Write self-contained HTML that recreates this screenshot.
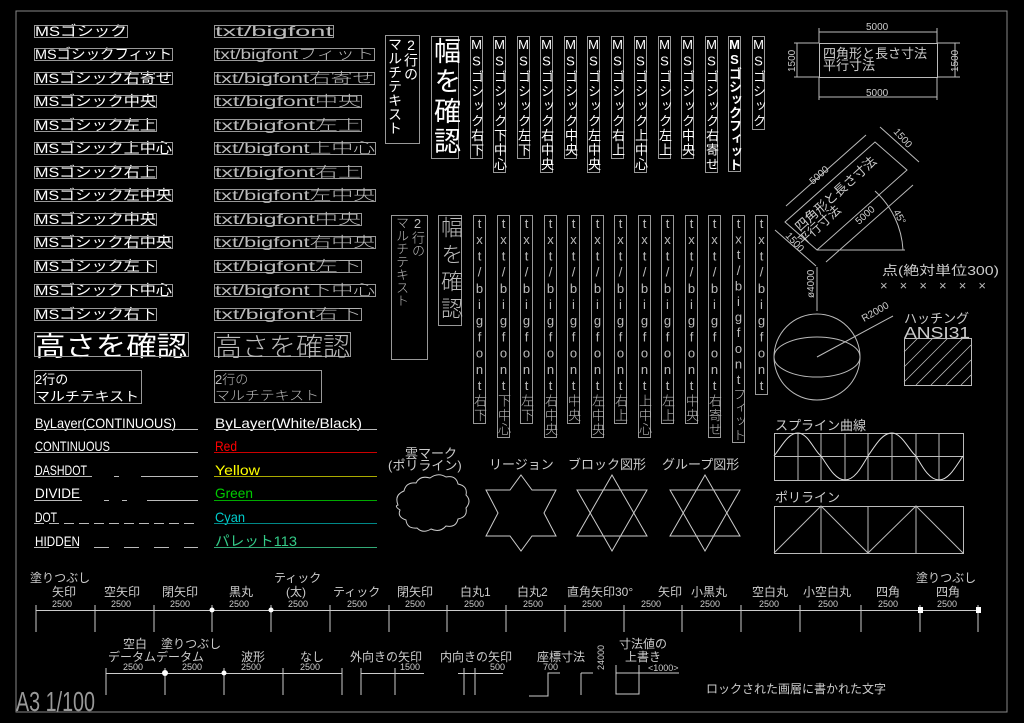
<!DOCTYPE html>
<html><head><meta charset="utf-8"><style>
html,body{margin:0;padding:0;background:#000;width:1024px;height:723px;overflow:hidden;position:relative}
svg{position:absolute;left:0;top:0}
.v{position:absolute;writing-mode:vertical-rl;text-orientation:upright;font-family:"Liberation Sans","Noto Sans CJK JP",sans-serif;white-space:nowrap;box-sizing:border-box}
.ms{top:36px;width:13px;border:1px solid #999;color:#fff;font-size:13px;line-height:11px;letter-spacing:1.6px}
.bf{top:215px;width:13px;border:1px solid #999;color:#bbb;font-size:13px;line-height:11px;letter-spacing:1.2px;font-weight:300}
</style></head><body>
<svg width="1024" height="723" viewBox="0 0 1024 723" font-family="Liberation Sans, Noto Sans CJK JP, sans-serif">
<rect x="16" y="11" width="991" height="701" fill="none" stroke="#888" stroke-width="1"/>
<g fill="#fff" font-size="14" stroke="none">
<text x="35" y="36" textLength="92" lengthAdjust="spacingAndGlyphs">MSゴシック</text>
<text x="35" y="59" textLength="137" lengthAdjust="spacingAndGlyphs">MSゴシックフィット</text>
<text x="35" y="83" textLength="137" lengthAdjust="spacingAndGlyphs">MSゴシック右寄せ</text>
<text x="35" y="106" textLength="121" lengthAdjust="spacingAndGlyphs">MSゴシック中央</text>
<text x="35" y="130" textLength="121" lengthAdjust="spacingAndGlyphs">MSゴシック左上</text>
<text x="35" y="153" textLength="137" lengthAdjust="spacingAndGlyphs">MSゴシック上中心</text>
<text x="35" y="177" textLength="121" lengthAdjust="spacingAndGlyphs">MSゴシック右上</text>
<text x="35" y="200" textLength="137" lengthAdjust="spacingAndGlyphs">MSゴシック左中央</text>
<text x="35" y="224" textLength="121" lengthAdjust="spacingAndGlyphs">MSゴシック中央</text>
<text x="35" y="247" textLength="137" lengthAdjust="spacingAndGlyphs">MSゴシック右中央</text>
<text x="35" y="271" textLength="121" lengthAdjust="spacingAndGlyphs">MSゴシック左下</text>
<text x="35" y="295" textLength="137" lengthAdjust="spacingAndGlyphs">MSゴシック下中心</text>
<text x="35" y="319" textLength="121" lengthAdjust="spacingAndGlyphs">MSゴシック右下</text>
<text x="35" y="356" font-size="27" textLength="152" lengthAdjust="spacingAndGlyphs">高さを確認</text>
</g>
<g fill="none" stroke="#999" stroke-width="1">
<rect x="34.5" y="25.5" width="93" height="12"/><rect x="34.5" y="48.5" width="138" height="12"/><rect x="34.5" y="72.5" width="138" height="12"/><rect x="34.5" y="95.5" width="122" height="12"/><rect x="34.5" y="119.5" width="122" height="12"/><rect x="34.5" y="142.5" width="138" height="12"/><rect x="34.5" y="166.5" width="122" height="12"/><rect x="34.5" y="189.5" width="138" height="12"/><rect x="34.5" y="213.5" width="122" height="12"/><rect x="34.5" y="236.5" width="138" height="12"/><rect x="34.5" y="260.5" width="122" height="12"/><rect x="34.5" y="284.5" width="138" height="12"/><rect x="34.5" y="308.5" width="122" height="12"/>
<rect x="34.5" y="332.5" width="154" height="24"/>
<rect x="214.5" y="25.5" width="119" height="12"/><rect x="214.5" y="48.5" width="160" height="12"/><rect x="214.5" y="72.5" width="160" height="12"/><rect x="214.5" y="95.5" width="147" height="12"/><rect x="214.5" y="119.5" width="147" height="12"/><rect x="214.5" y="142.5" width="161" height="12"/><rect x="214.5" y="166.5" width="147" height="12"/><rect x="214.5" y="189.5" width="161" height="12"/><rect x="214.5" y="213.5" width="147" height="12"/><rect x="214.5" y="236.5" width="161" height="12"/><rect x="214.5" y="260.5" width="147" height="12"/><rect x="214.5" y="284.5" width="161" height="12"/><rect x="214.5" y="308.5" width="147" height="12"/>
<rect x="214.5" y="332.5" width="136" height="24"/>
<rect x="34.5" y="370.5" width="107" height="33"/><rect x="214.5" y="370.5" width="107" height="32"/>
</g>
<g fill="#bbb" font-size="14" font-weight="300">
<text x="215" y="36" textLength="118" lengthAdjust="spacingAndGlyphs">txt/bigfont</text>
<text x="215" y="59" textLength="159" lengthAdjust="spacingAndGlyphs">txt/bigfontフィット</text>
<text x="215" y="83" textLength="159" lengthAdjust="spacingAndGlyphs">txt/bigfont右寄せ</text>
<text x="215" y="106" textLength="146" lengthAdjust="spacingAndGlyphs">txt/bigfont中央</text>
<text x="215" y="130" textLength="146" lengthAdjust="spacingAndGlyphs">txt/bigfont左上</text>
<text x="215" y="153" textLength="160" lengthAdjust="spacingAndGlyphs">txt/bigfont上中心</text>
<text x="215" y="177" textLength="146" lengthAdjust="spacingAndGlyphs">txt/bigfont右上</text>
<text x="215" y="200" textLength="160" lengthAdjust="spacingAndGlyphs">txt/bigfont左中央</text>
<text x="215" y="224" textLength="146" lengthAdjust="spacingAndGlyphs">txt/bigfont中央</text>
<text x="215" y="247" textLength="160" lengthAdjust="spacingAndGlyphs">txt/bigfont右中央</text>
<text x="215" y="271" textLength="146" lengthAdjust="spacingAndGlyphs">txt/bigfont左下</text>
<text x="215" y="295" textLength="160" lengthAdjust="spacingAndGlyphs">txt/bigfont下中心</text>
<text x="215" y="319" textLength="146" lengthAdjust="spacingAndGlyphs">txt/bigfont右下</text>
<text x="215" y="356" font-size="26" textLength="135" lengthAdjust="spacingAndGlyphs">高さを確認</text>
<text x="215" y="384" font-size="13">2行の</text>
<text x="215" y="400" font-size="13" textLength="104" lengthAdjust="spacingAndGlyphs">マルチテキスト</text>
</g>
<g fill="#fff" font-size="13">
<text x="35" y="384">2行の</text>
<text x="35" y="401" textLength="104" lengthAdjust="spacingAndGlyphs">マルチテキスト</text>
</g>
<g font-size="14" fill="#fff">
<text x="35" y="428" textLength="141" lengthAdjust="spacingAndGlyphs">ByLayer(CONTINUOUS)</text>
<text x="35" y="451" textLength="75" lengthAdjust="spacingAndGlyphs">CONTINUOUS</text>
<text x="35" y="475" textLength="52" lengthAdjust="spacingAndGlyphs">DASHDOT</text>
<text x="35" y="498" textLength="45" lengthAdjust="spacingAndGlyphs">DIVIDE</text>
<text x="35" y="522" textLength="22" lengthAdjust="spacingAndGlyphs">DOT</text>
<text x="35" y="546" textLength="45" lengthAdjust="spacingAndGlyphs">HIDDEN</text>
<text x="215" y="428" textLength="147" lengthAdjust="spacingAndGlyphs">ByLayer(White/Black)</text>
<text x="215" y="451" fill="#f00" textLength="22" lengthAdjust="spacingAndGlyphs">Red</text>
<text x="215" y="475" fill="#ff0" textLength="45" lengthAdjust="spacingAndGlyphs">Yellow</text>
<text x="215" y="498" fill="#0c0" textLength="38" lengthAdjust="spacingAndGlyphs">Green</text>
<text x="215" y="522" fill="#0cc" textLength="30" lengthAdjust="spacingAndGlyphs">Cyan</text>
<text x="215" y="546" fill="#3c8" textLength="82" lengthAdjust="spacingAndGlyphs">パレット113</text>
</g>
<g stroke-width="1" fill="none">
<line x1="34" y1="429.5" x2="198" y2="429.5" stroke="#bbb"/>
<line x1="34" y1="452.5" x2="198" y2="452.5" stroke="#bbb"/>
<line x1="34" y1="476.5" x2="198" y2="476.5" stroke="#bbb" stroke-dasharray="58 22 5 22 58"/>
<line x1="34" y1="500.5" x2="198" y2="500.5" stroke="#bbb" stroke-dasharray="48 22 5 13 5 20 60"/>
<line x1="34" y1="523.5" x2="198" y2="523.5" stroke="#bbb" stroke-dasharray="10 5"/>
<line x1="34" y1="547.5" x2="198" y2="547.5" stroke="#bbb" stroke-dasharray="15 15"/>
<line x1="214" y1="429.5" x2="377" y2="429.5" stroke="#bbb"/>
<line x1="214" y1="452.5" x2="377" y2="452.5" stroke="#c00"/>
<line x1="214" y1="476.5" x2="377" y2="476.5" stroke="#aa0"/>
<line x1="214" y1="500.5" x2="377" y2="500.5" stroke="#0a0"/>
<line x1="214" y1="523.5" x2="377" y2="523.5" stroke="#088"/>
<line x1="214" y1="547.5" x2="377" y2="547.5" stroke="#3a7"/>
</g>
<g fill="none" stroke="#999">
<rect x="385.5" y="35.5" width="34" height="108"/>
<rect x="431.5" y="36.5" width="27" height="122"/>
<rect x="391.5" y="215.5" width="36" height="144"/>
<rect x="438.5" y="215.5" width="23" height="110"/>
</g>
<g stroke="#bbb" fill="none">
<rect x="819.5" y="43.5" width="118" height="34"/>
<line x1="819" y1="32" x2="937" y2="32"/><line x1="819" y1="28" x2="819" y2="43"/><line x1="937" y1="28" x2="937" y2="43"/>
<line x1="819" y1="97" x2="937" y2="97"/><line x1="819" y1="77" x2="819" y2="100"/><line x1="937" y1="77" x2="937" y2="100"/>
<line x1="797" y1="43" x2="797" y2="77"/><line x1="794" y1="43" x2="819" y2="43"/><line x1="794" y1="77" x2="819" y2="77"/>
<line x1="955" y1="43" x2="955" y2="77"/><line x1="937" y1="43" x2="960" y2="43"/><line x1="937" y1="77" x2="960" y2="77"/>
<polygon points="875,142 907,170 817,250 785,222"/>
<line x1="866" y1="135" x2="786" y2="206"/><line x1="880" y1="127" x2="919" y2="162"/>
<line x1="816" y1="266" x2="775" y2="230"/><line x1="826" y1="262" x2="913" y2="185"/>
<path d="M 875 191 A 86 86 0 0 1 903 250"/><line x1="817" y1="250" x2="905" y2="250"/>
<line x1="817" y1="267" x2="817" y2="311"/>
<circle cx="817" cy="357" r="43"/>
<ellipse cx="817" cy="357" rx="43" ry="20"/>
<line x1="817" y1="357" x2="893" y2="316"/>
<rect x="904.5" y="338.5" width="67" height="47"/>
</g>
<g stroke="#bbb" stroke-width="0.8">
<line x1="904" y1="352" x2="918" y2="338"/><line x1="904" y1="367" x2="933" y2="338"/><line x1="904" y1="382" x2="948" y2="338"/><line x1="916" y1="385" x2="963" y2="338"/><line x1="931" y1="385" x2="971" y2="345"/><line x1="946" y1="385" x2="971" y2="360"/><line x1="961" y1="385" x2="971" y2="375"/>
</g>
<g fill="#ccc" font-size="10">
<text x="866" y="30">5000</text><text x="866" y="96">5000</text>
<text x="795" y="72" transform="rotate(-90 795 72)">1500</text>
<text x="958" y="72" transform="rotate(-90 958 72)">1500</text>
<text x="813" y="185" transform="rotate(-42 813 185)">5000</text>
<text x="859" y="225" transform="rotate(-42 859 225)">5000</text>
<text x="893" y="132" transform="rotate(48 893 132)">1500</text>
<text x="785" y="236" transform="rotate(48 785 236)">1500</text>
<text x="893" y="212" transform="rotate(60 893 212)">45°</text>
<text x="814" y="298" transform="rotate(-90 814 298)">ø4000</text>
<text x="864" y="322" transform="rotate(-30 864 322)">R2000</text>
</g>
<g fill="#ccc" font-size="13">
<text x="823" y="58">四角形と長さ寸法</text><text x="823" y="70">平行寸法</text>
<text x="800" y="232" transform="rotate(-42 800 232)">四角形と長さ寸法</text>
<text x="803" y="246" transform="rotate(-42 803 246)">平行寸法</text>
<text x="882" y="275" textLength="117" lengthAdjust="spacingAndGlyphs">点(絶対単位300)</text>
<text x="904" y="323">ハッチング</text>
<text x="904" y="338" font-size="16" textLength="66" lengthAdjust="spacingAndGlyphs">ANSI31</text>
<text x="775" y="430">スプライン曲線</text>
<text x="775" y="502">ポリライン</text>
</g>
<g fill="#bbb" font-size="13">
<text x="880" y="290" textLength="112" lengthAdjust="spacing" letter-spacing="6">××××××</text>
</g>
<g stroke="#bbb" fill="none">
<rect x="774.5" y="433.5" width="189" height="47"/>
<line x1="774" y1="456.5" x2="963" y2="456.5"/>
<line x1="798" y1="433" x2="798" y2="480"/><line x1="821" y1="433" x2="821" y2="480"/><line x1="845" y1="433" x2="845" y2="480"/><line x1="868" y1="433" x2="868" y2="480"/><line x1="892" y1="433" x2="892" y2="480"/><line x1="916" y1="433" x2="916" y2="480"/><line x1="939" y1="433" x2="939" y2="480"/>
<path d="M774,456 C782,446 788,433 798,433 C808,433 815,452 821,456 C828,466 835,480 845,480 C855,480 862,466 868,456 C875,446 882,433 892,433 C902,433 910,452 916,456 C922,466 929,480 939,480 C949,480 956,466 963,456" stroke="#ddd"/>
<rect x="774.5" y="506.5" width="189" height="47"/>
<line x1="821" y1="506" x2="821" y2="553"/><line x1="868" y1="506" x2="868" y2="553"/><line x1="916" y1="506" x2="916" y2="553"/>
<polyline points="774,553 821,506 868,553 916,506 963,553"/>
</g>
<g stroke="#ccc" fill="none">
<path d="M398,505 q-4,-10 6,-14 q2,-9 12,-8 q4,-8 14,-5 q8,-6 16,-1 q10,-2 12,7 q10,2 8,11 q6,6 0,13 q2,9 -8,11 q-2,9 -12,7 q-6,7 -15,3 q-8,5 -14,-1 q-10,1 -11,-8 q-9,-3 -6,-10 q-6,-4 -2,-5 z"/>
<polygon points="521,475 532,490 556,490 544,513 556,536 532,536 521,551 510,536 486,536 498,513 486,490 510,490"/>
<polygon points="612,475 647,536 577,536"/><polygon points="612,551 647,490 577,490"/>
<polygon points="705,475 740,536 670,536"/><polygon points="705,551 740,490 670,490"/>
</g>
<g fill="#ccc" font-size="13">
<text x="405" y="458">雲マーク</text>
<text x="388" y="470">(ポリライン)</text>
<text x="489" y="469">リージョン</text>
<text x="568" y="469">ブロック図形</text>
<text x="662" y="469">グループ図形</text>
</g>
<g stroke="#ccc" fill="none">
<line x1="36" y1="610.5" x2="980" y2="610.5"/>
<line x1="36" y1="605" x2="36" y2="632"/><line x1="95" y1="605" x2="95" y2="632"/><line x1="154" y1="605" x2="154" y2="632"/><line x1="212" y1="605" x2="212" y2="632"/><line x1="271" y1="605" x2="271" y2="632"/><line x1="330" y1="605" x2="330" y2="632"/><line x1="389" y1="605" x2="389" y2="632"/><line x1="447" y1="605" x2="447" y2="632"/><line x1="506" y1="605" x2="506" y2="632"/><line x1="565" y1="605" x2="565" y2="632"/><line x1="624" y1="605" x2="624" y2="632"/><line x1="682" y1="605" x2="682" y2="632"/><line x1="741" y1="605" x2="741" y2="632"/><line x1="800" y1="605" x2="800" y2="632"/><line x1="861" y1="605" x2="861" y2="632"/><line x1="920" y1="605" x2="920" y2="632"/><line x1="978" y1="605" x2="978" y2="632"/>
<line x1="106" y1="673.5" x2="342" y2="673.5"/>
<line x1="106" y1="668" x2="106" y2="695"/><line x1="165" y1="668" x2="165" y2="695"/><line x1="224" y1="668" x2="224" y2="695"/><line x1="283" y1="668" x2="283" y2="695"/><line x1="342" y1="668" x2="342" y2="695"/>
<line x1="361" y1="673.5" x2="424" y2="673.5"/><line x1="361" y1="668" x2="361" y2="695"/><line x1="395" y1="668" x2="395" y2="695"/>
<line x1="458" y1="673.5" x2="503" y2="673.5"/><line x1="464" y1="668" x2="464" y2="695"/><line x1="475" y1="668" x2="475" y2="695"/>
<polyline points="529,696 548,696 548,673 560,673"/><line x1="581" y1="673" x2="581" y2="695"/><line x1="581" y1="673" x2="593" y2="673"/>
<polyline points="616,665 616,694 639,694 639,665"/><line x1="616" y1="673" x2="679" y2="673"/>
</g>
<g fill="#fff">
<circle cx="212" cy="610" r="2.5"/><circle cx="271" cy="610" r="2.5"/><circle cx="165" cy="673" r="3"/><circle cx="224" cy="673" r="2.5"/>
<rect x="918" y="607" width="5" height="6"/><rect x="976" y="607" width="5" height="6"/>
</g>
<g fill="#ccc" font-size="9">
<text x="52" y="607">2500</text><text x="111" y="607">2500</text><text x="170" y="607">2500</text><text x="229" y="607">2500</text><text x="288" y="607">2500</text><text x="347" y="607">2500</text><text x="405" y="607">2500</text><text x="464" y="607">2500</text><text x="523" y="607">2500</text><text x="582" y="607">2500</text><text x="641" y="607">2500</text><text x="700" y="607">2500</text><text x="759" y="607">2500</text><text x="818" y="607">2500</text><text x="878" y="607">2500</text><text x="937" y="607">2500</text>
<text x="123" y="670">2500</text><text x="182" y="670">2500</text><text x="241" y="670">2500</text><text x="300" y="670">2500</text>
<text x="400" y="670">1500</text><text x="490" y="670">500</text><text x="543" y="670">700</text>
<text x="604" y="670" transform="rotate(-90 604 670)">24000</text><text x="648" y="671">&lt;1000&gt;</text>
</g>
<g fill="#ccc" font-size="12">
<text x="30" y="582">塗りつぶし</text><text x="52" y="596">矢印</text><text x="104" y="596">空矢印</text><text x="162" y="596">閉矢印</text><text x="229" y="596">黒丸</text>
<text x="274" y="582">ティック</text><text x="286" y="596">(太)</text><text x="333" y="596">ティック</text><text x="397" y="596">閉矢印</text><text x="460" y="596">白丸1</text><text x="517" y="596">白丸2</text><text x="567" y="596">直角矢印30°</text><text x="658" y="596">矢印</text><text x="691" y="596">小黒丸</text><text x="752" y="596">空白丸</text><text x="803" y="596">小空白丸</text><text x="876" y="596">四角</text>
<text x="916" y="582">塗りつぶし</text><text x="936" y="596">四角</text>
<text x="123" y="648">空白</text><text x="161" y="648">塗りつぶし</text>
<text x="108" y="661">データムデータム</text><text x="241" y="661">波形</text><text x="300" y="661">なし</text><text x="350" y="661">外向きの矢印</text><text x="440" y="661">内向きの矢印</text><text x="537" y="661">座標寸法</text>
<text x="619" y="648">寸法値の</text><text x="625" y="661">上書き</text>
<text x="706" y="693">ロックされた画層に書かれた文字</text>
</g>
<text x="16" y="711" fill="#999" font-size="28" textLength="79" lengthAdjust="spacingAndGlyphs" font-weight="300">A3 1/100</text>
</svg>
<div class="v" style="left:387px;top:37px;height:105px;color:#fff;font-size:14px;line-height:16px">2行の<br>マルチテキスト</div>
<div class="v" style="left:432px;top:37px;height:120px;color:#fff;font-size:27px;line-height:26px;letter-spacing:3px">幅を確認</div>
<div class="v" style="left:393px;top:216px;height:142px;color:#bbb;font-size:13px;line-height:16px;font-weight:300">2行の<br>マルチテキスト</div>
<div class="v" style="left:439px;top:216px;height:108px;color:#bbb;font-size:22px;line-height:22px;letter-spacing:5px;font-weight:300">幅を確認</div>
<div class="v ms" style="left:470px">MSゴシック右下</div>
<div class="v ms" style="left:493px">MSゴシック下中心</div>
<div class="v ms" style="left:517px">MSゴシック左下</div>
<div class="v ms" style="left:540px">MSゴシック右中央</div>
<div class="v ms" style="left:564px">MSゴシック中央</div>
<div class="v ms" style="left:587px">MSゴシック左中央</div>
<div class="v ms" style="left:611px">MSゴシック右上</div>
<div class="v ms" style="left:634px">MSゴシック上中心</div>
<div class="v ms" style="left:658px">MSゴシック左上</div>
<div class="v ms" style="left:681px">MSゴシック中央</div>
<div class="v ms" style="left:705px">MSゴシック右寄せ</div>
<div class="v ms" style="left:728px;letter-spacing:0px;font-weight:bold">MSゴシックフィット</div>
<div class="v ms" style="left:752px">MSゴシック</div>
<div class="v bf" style="left:473px">txt/bigfont右下</div>
<div class="v bf" style="left:497px">txt/bigfont下中心</div>
<div class="v bf" style="left:520px">txt/bigfont左下</div>
<div class="v bf" style="left:544px">txt/bigfont右中央</div>
<div class="v bf" style="left:567px">txt/bigfont中央</div>
<div class="v bf" style="left:591px">txt/bigfont左中央</div>
<div class="v bf" style="left:614px">txt/bigfont右上</div>
<div class="v bf" style="left:638px">txt/bigfont上中心</div>
<div class="v bf" style="left:661px">txt/bigfont左上</div>
<div class="v bf" style="left:685px">txt/bigfont中央</div>
<div class="v bf" style="left:708px">txt/bigfont右寄せ</div>
<div class="v bf" style="left:732px;letter-spacing:0.6px">txt/bigfontフィット</div>
<div class="v bf" style="left:755px">txt/bigfont</div>
</body></html>
